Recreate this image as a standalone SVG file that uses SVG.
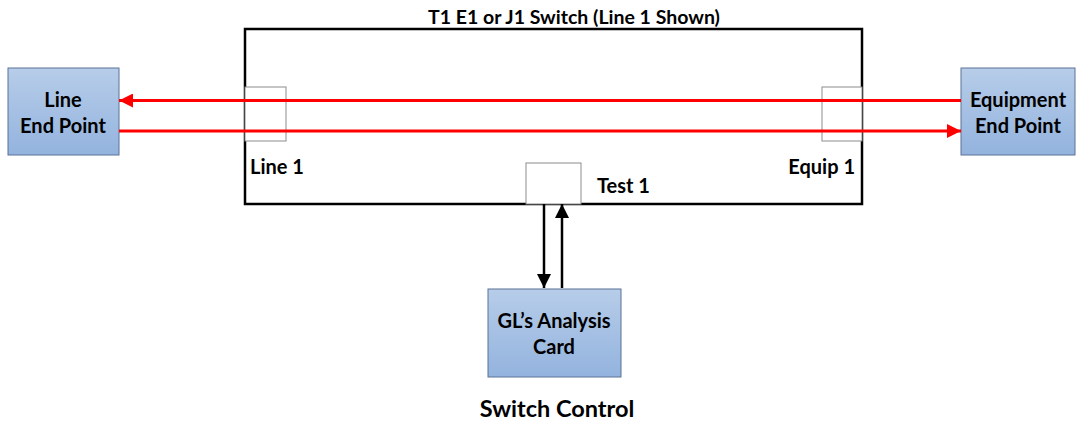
<svg xmlns="http://www.w3.org/2000/svg" width="1076" height="421" viewBox="0 0 1076 421">
<defs>
<linearGradient id="g" x1="0" y1="0" x2="0" y2="1">
<stop offset="0" stop-color="#b7cde9"/>
<stop offset="1" stop-color="#93b3de"/>
</linearGradient>
<marker id="ar" viewBox="0 0 10 10" refX="10" refY="5" markerWidth="14" markerHeight="14" markerUnits="userSpaceOnUse" orient="auto"><path d="M0,0 L10,5 L0,10 z" fill="#ff0000"/></marker>
<marker id="ab" viewBox="0 0 10 10" refX="10" refY="5" markerWidth="14" markerHeight="14" markerUnits="userSpaceOnUse" orient="auto"><path d="M0,0 L10,5 L0,10 z" fill="#000"/></marker>
</defs>
<style>
.n{fill:url(#g);stroke:#5b7396;stroke-width:1}
.t{font-family:Lato,"Open Sans","Liberation Sans",sans-serif;font-weight:bold;fill:#000}
.port{fill:#fff;stroke:#8c8c8c;stroke-width:1}
.red{stroke:#ff0000;stroke-width:3;fill:none}
.blk{stroke:#000;stroke-width:2.5;fill:none}
</style>
<rect width="1076" height="421" fill="#fff"/>
<g id="switch">
<rect x="245" y="29" width="617" height="175" fill="#fff" stroke="#000" stroke-width="2.5"/>
<text class="t" x="574" y="24" font-size="19.5" text-anchor="middle">T1 E1 or J1 Switch (Line 1 Shown)</text>
</g>
<g id="port-line1">
<rect class="port" x="245" y="87" width="41" height="54"/>
<text class="t" x="250" y="174" font-size="20">Line 1</text>
</g>
<g id="port-equip1">
<rect class="port" x="822" y="87" width="40" height="54"/>
<text class="t" x="855" y="174" font-size="20" text-anchor="end">Equip 1</text>
</g>
<g id="port-test1">
<rect class="port" x="526" y="163" width="55" height="41"/>
<text class="t" x="597" y="193" font-size="20">Test 1</text>
</g>
<g id="line-end">
<rect class="n" x="8" y="68" width="111" height="87"/>
<text class="t" x="63" y="107" font-size="20" text-anchor="middle">Line</text>
<text class="t" x="63" y="133" font-size="20" text-anchor="middle">End Point</text>
</g>
<g id="equip-end">
<rect class="n" x="961" y="68" width="114" height="87"/>
<text class="t" x="1018" y="107" font-size="20" text-anchor="middle">Equipment</text>
<text class="t" x="1018" y="133" font-size="20" text-anchor="middle">End Point</text>
</g>
<g id="card">
<rect class="n" x="488" y="289" width="133" height="88"/>
<text class="t" x="554" y="328" font-size="20" text-anchor="middle">GL’s Analysis</text>
<text class="t" x="554" y="354" font-size="20" text-anchor="middle">Card</text>
</g>
<g id="connectors">
<line class="red" x1="961" y1="100.5" x2="119" y2="100.5" marker-end="url(#ar)"/>
<line class="red" x1="119" y1="131" x2="961" y2="131" marker-end="url(#ar)"/>
<line class="blk" x1="544" y1="204" x2="544" y2="288" marker-end="url(#ab)"/>
<line class="blk" x1="562" y1="288" x2="562" y2="204" marker-end="url(#ab)"/>
</g>
<text class="t" x="557" y="417" font-size="23.5" text-anchor="middle">Switch Control</text>
</svg>
